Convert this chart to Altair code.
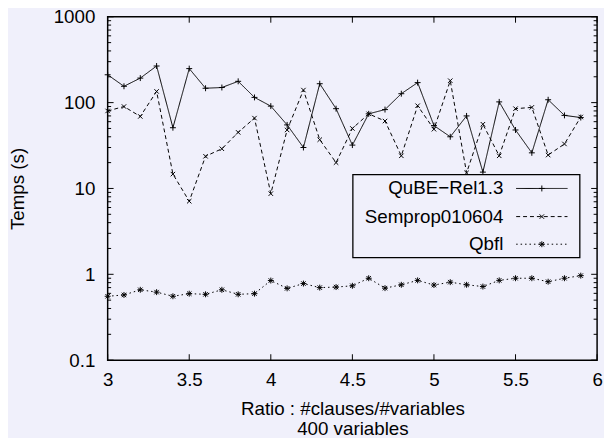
import altair as alt
import pandas as pd

ratios = [3.0, 3.1, 3.2, 3.3, 3.4, 3.5, 3.6, 3.7, 3.8, 3.9,
          4.0, 4.1, 4.2, 4.3, 4.4, 4.5, 4.6, 4.7, 4.8, 4.9,
          5.0, 5.1, 5.2, 5.3, 5.4, 5.5, 5.6, 5.7, 5.8, 5.9]

qube = [211, 155, 193, 267, 51, 249, 147, 150, 177, 115,
        91, 55, 30, 166, 85, 32, 74, 83, 127, 171,
        54, 40, 70, 15.5, 102, 48, 26, 108, 71, 67]

semprop = [80, 90, 69, 135, 14.7, 7.1, 23.7, 29, 45, 66,
           8.7, 48, 140, 37, 20, 50, 74, 61, 24, 92,
           49, 180, 15.2, 56, 24, 85, 88, 24.5, 33, 68]

qbfl = [0.555, 0.575, 0.66, 0.62, 0.555, 0.595, 0.585, 0.66, 0.585, 0.595,
        0.846, 0.686, 0.78, 0.70, 0.71, 0.735, 0.90, 0.69, 0.755, 0.85,
        0.75, 0.81, 0.755, 0.72, 0.85, 0.90, 0.90, 0.82, 0.90, 0.965]

series_names = ["QuBE-Rel1.3", "Semprop010604", "Qbfl"]
legend_labels = ["QuBE\u2212Rel1.3", "Semprop010604", "Qbfl"]

x_ticks = [3, 3.5, 4, 4.5, 5, 5.5, 6]
y_ticks = [0.1, 1, 10, 100, 1000]
y_minor = [k * 10.0 ** e for e in range(-1, 3) for k in range(2, 10)]

BG = "#f0f0fb"
FONT = "Liberation Sans"
FS = 19
W, H = 496, 348

PLUS = "M-1,0L1,0M0,-1L0,1"
CROSS = "M-0.75,-0.75L0.75,0.75M-0.75,0.75L0.75,-0.75"
STAR = "M-1,0L1,0M0,-1L0,1M-0.75,-0.75L0.75,0.75M-0.75,0.75L0.75,-0.75"
shapes = [PLUS, CROSS, STAR]
dashes = [[1, 0], [4, 3], [1.5, 3]]

rows = []
for name, vals in zip(series_names, [qube, semprop, qbfl]):
    for r, v in zip(ratios, vals):
        rows.append({"series": name, "ratio": r, "temps": v})
df = pd.DataFrame(rows)

xscale = alt.Scale(domain=[3, 6], nice=False, zero=False)
yscale = alt.Scale(type="log", domain=[0.1, 1000], nice=False)

xaxis = alt.Axis(values=x_ticks, format="~g", ticks=False, tickSize=0, domain=False, grid=False,
                 labelFontSize=FS, labelFont=FONT, labelColor="black", labelPadding=11,
                 title=["Ratio : #clauses/#variables", "400 variables"],
                 titleFontSize=FS, titleFont=FONT, titleFontWeight="normal", titleColor="black",
                 titleLineHeight=20, titleBaseline="alphabetic", titleY=55, titleX=W / 2,
                 labelFlush=False, labelOverlap=False)
yaxis = alt.Axis(values=y_ticks, format="~g", ticks=False, tickSize=0, domain=False, grid=False,
                 labelFontSize=FS, labelFont=FONT, labelColor="black", labelPadding=13,
                 title="Temps (s)", titleFontSize=FS, titleFont=FONT, titleFontWeight="normal",
                 titleColor="black", titleX=-91, titleY=H / 2, titleAngle=-90,
                 titleBaseline="middle", titleAlign="center", labelFlush=False, labelOverlap=False)

lines = alt.Chart(df).mark_line(strokeWidth=1, color="black").encode(
    x=alt.X("ratio:Q", scale=xscale, axis=xaxis),
    y=alt.Y("temps:Q", scale=yscale, axis=yaxis),
    strokeDash=alt.StrokeDash("series:N", scale=alt.Scale(domain=series_names, range=dashes), legend=None),
    detail="series:N",
)

points = alt.Chart(df).mark_point(filled=False, color="black", strokeWidth=1, size=36, opacity=1).encode(
    x=alt.X("ratio:Q", scale=xscale, axis=xaxis),
    y=alt.Y("temps:Q", scale=yscale, axis=yaxis),
    shape=alt.Shape("series:N", scale=alt.Scale(domain=series_names, range=shapes), legend=None),
)

xt = pd.DataFrame({"ratio": x_ticks})
ym = pd.DataFrame({"temps": y_ticks})
yn = pd.DataFrame({"temps": y_minor})

tick_layers = [
    alt.Chart(xt).mark_rule(color="black", strokeWidth=1).encode(
        x=alt.X("ratio:Q", scale=xscale, axis=xaxis), y=alt.value(H), y2=alt.value(H - 6)),
    alt.Chart(xt).mark_rule(color="black", strokeWidth=1).encode(
        x=alt.X("ratio:Q", scale=xscale, axis=xaxis), y=alt.value(0), y2=alt.value(6)),
    alt.Chart(ym).mark_rule(color="black", strokeWidth=1).encode(
        y=alt.Y("temps:Q", scale=yscale, axis=yaxis), x=alt.value(0), x2=alt.value(6)),
    alt.Chart(ym).mark_rule(color="black", strokeWidth=1).encode(
        y=alt.Y("temps:Q", scale=yscale, axis=yaxis), x=alt.value(W), x2=alt.value(W - 6)),
    alt.Chart(yn).mark_rule(color="black", strokeWidth=1).encode(
        y=alt.Y("temps:Q", scale=yscale, axis=yaxis), x=alt.value(0), x2=alt.value(3.5)),
    alt.Chart(yn).mark_rule(color="black", strokeWidth=1).encode(
        y=alt.Y("temps:Q", scale=yscale, axis=yaxis), x=alt.value(W), x2=alt.value(W - 3.5)),
]

# Legend box
legend_layers = [
    alt.Chart(pd.DataFrame({"a": [0]})).mark_rect(fill=BG, stroke="black", strokeWidth=1.3).encode(
        x=alt.value(248.5), x2=alt.value(478.5), y=alt.value(160), y2=alt.value(244))
]
row_y = [174, 202.5, 230.5]
for i, (lab, shp, dsh) in enumerate(zip(legend_labels, shapes, dashes)):
    one = pd.DataFrame({"lab": [lab]})
    legend_layers.append(
        alt.Chart(one).mark_text(align="right", baseline="middle", font=FONT, fontSize=FS, color="black").encode(
            x=alt.value(401), y=alt.value(row_y[i]), text="lab:N"))
    legend_layers.append(
        alt.Chart(one).mark_rule(color="black", strokeWidth=1, strokeDash=dsh).encode(
            x=alt.value(414), x2=alt.value(466), y=alt.value(row_y[i])))
    legend_layers.append(
        alt.Chart(one).mark_point(shape=shp, filled=False, color="black", strokeWidth=1, size=36, opacity=1).encode(
            x=alt.value(440), y=alt.value(row_y[i])))

chart = alt.layer(lines, points, *tick_layers, *legend_layers).properties(
    width=W, height=H,
    autosize=alt.AutoSizeParams(type="none"),
    padding={"left": 101, "top": 6, "right": 7, "bottom": 76},
    background=BG,
).configure_view(stroke="black", strokeWidth=1.5).configure_axis(titleFontWeight="normal")

chart.save("out.html", embed_options={"renderer": "svg", "actions": False})
